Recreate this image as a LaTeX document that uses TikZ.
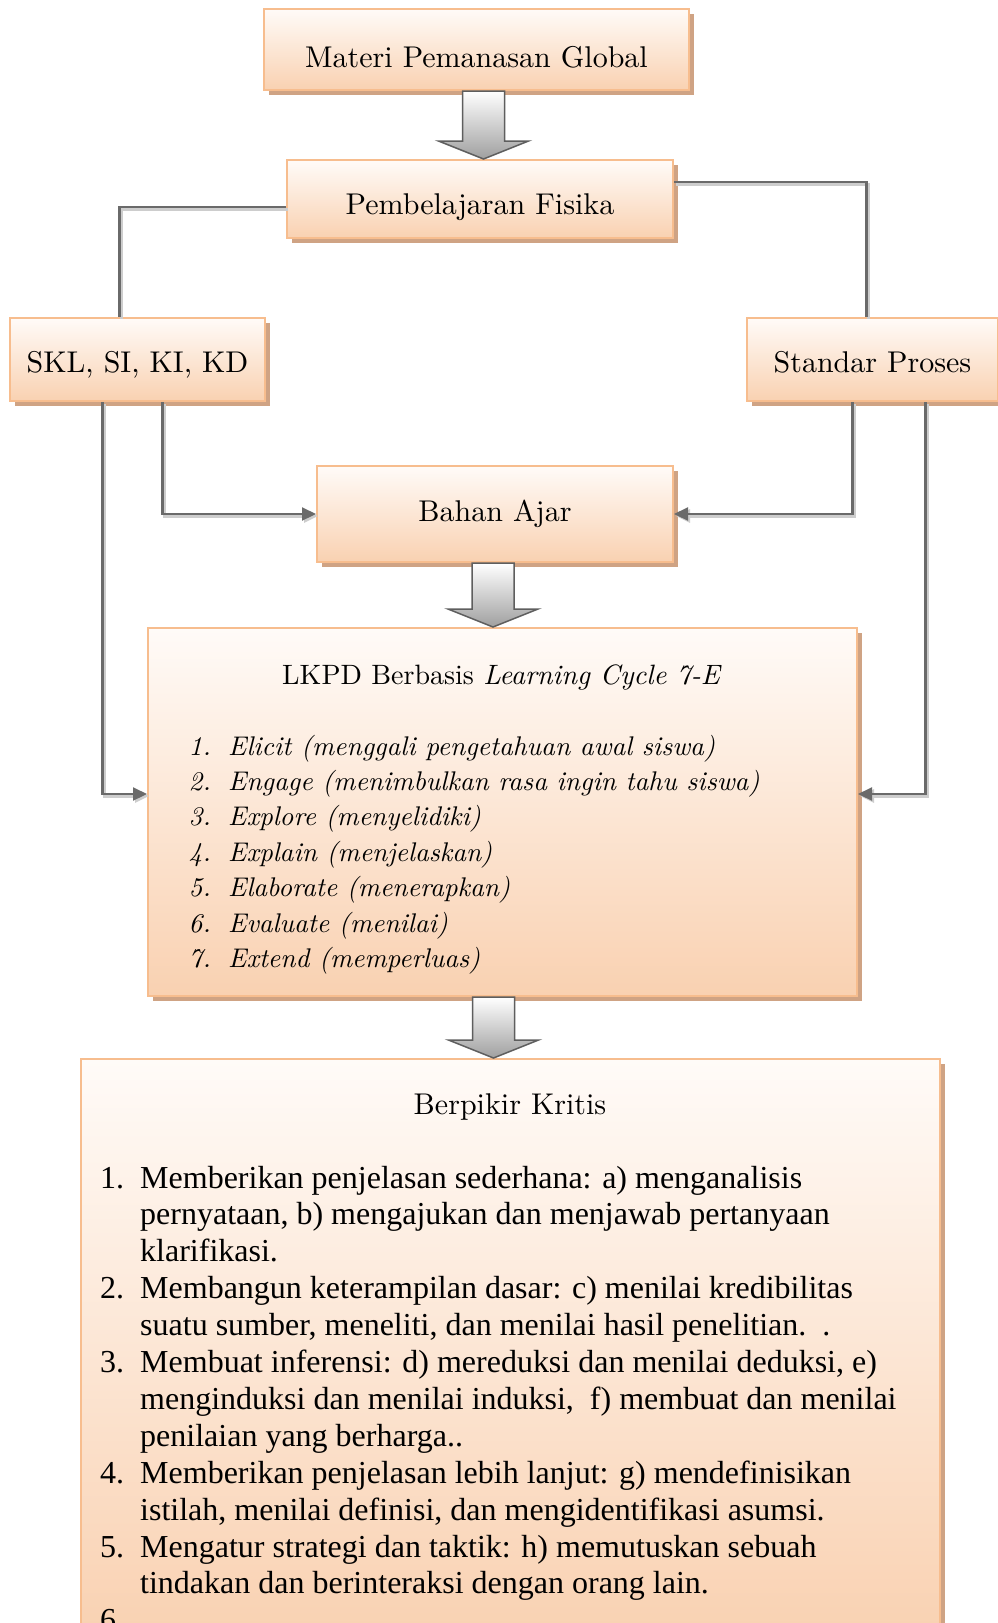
\documentclass[tikz,border=0pt]{standalone}
\usepackage{fontspec}
\newfontfamily\timesfont{Liberation Serif}
\newfontfamily\boxfont[ItalicFont=lmroman10-italic.otf]{lmroman10-regular.otf}
\usepackage{tikz}
\usetikzlibrary{positioning, calc, arrows.meta, shadows}
\definecolor{PeachTop}  {HTML}{FFFBF8}
\definecolor{Peach}     {HTML}{F9D1B1}
\definecolor{PeachEdge} {HTML}{F7BD8E}
\definecolor{ShadowTan} {HTML}{CFA384}
\definecolor{LineGry}   {HTML}{6A6A6A}
\definecolor{LineShd}   {HTML}{CDCDCD}
\definecolor{ArrGry}    {HTML}{5E5E5E}

\begin{document}
\begin{tikzpicture}[x=1pt, y=-1pt,
    box/.style={draw=PeachEdge, line width=2pt, top color=PeachTop, bottom color=Peach,
      drop shadow={shadow xshift=5pt, shadow yshift=-5pt, fill=ShadowTan, opacity=1},
      inner sep=0pt, font=\boxfont\fontsize{30}{36}\selectfont},
    link/.style={draw=LineGry, line width=2.2pt,
      preaction={draw=LineShd, line width=3pt, transform canvas={shift={(2pt,-2pt)}}}},
    conn/.style={link, -{Triangle[length=14pt, width=13pt]}},
    blockarr/.style={draw=ArrGry, line width=1.5pt, top color=white, bottom color=gray!75,
      line join=miter}]
      \useasboundingbox (0,0) rectangle (998,1623);
      \fill[white] (0,0) rectangle (998,1623);
      % ── boxes ────────────────────────────────────────────────────────────────
      \node[box, minimum width=425pt, minimum height=81pt] (mat) at (476.5,49.5)
        {\raisebox{-8pt}[\height][\depth]{Materi Pemanasan Global}};
      \node[box, minimum width=386pt, minimum height=78pt] (fis) at (480,199)
        {\raisebox{-8pt}[\height][\depth]{Pembelajaran Fisika}};
      \node[box, minimum width=255pt, minimum height=83pt] (skl) at (137.5,359.5)
        {\raisebox{-5pt}[\height][\depth]{SKL, SI, KI, KD}};
      \node[box, minimum width=251pt, minimum height=83pt] (std) at (872.5,359.5)
        {\raisebox{-3pt}[\height][\depth]{Standar Proses}};
      \node[box, minimum width=356pt, minimum height=96pt] (bah) at (495,514)
        {Bahan Ajar};
      \node[box, minimum width=709pt, minimum height=368pt] (lkpd) at (502.5,812) {};
      \node[box, minimum width=859pt, minimum height=582pt] (kri) at (510.5,1350) {};
      % ── connectors ───────────────────────────────────────────────────────────
      \draw[link] ($(fis.west)+(0,8)$) -| ($(skl.north)+(-18,0)$);
      \draw[link] ($(fis.east)+(0,-17)$) -| ($(std.north)+(-6,0)$);
      \draw[conn] ($(skl.south)+(-35,0)$) |- ($(lkpd.west)+(0,-18)$);
      \draw[conn] ($(skl.south)+(25,0)$) |- (bah.west);
      \draw[conn] ($(std.south)+(-20,0)$) |- (bah.east);
      \draw[conn] ($(std.south)+(53,0)$) |- ($(lkpd.east)+(0,-18)$);
      % ── block arrows between the stacked boxes ──────────────────────────────
      \foreach \a/\b/\dx in {mat/fis/7, bah/lkpd/-2, lkpd/kri/-9} {
        \draw[blockarr] let \p1=($(\a.south)+(\dx,0)$), \p2=(\b.north) in
          (\x1-21pt,\y1) -- (\x1+21pt,\y1) -- (\x1+21pt,\y2+18pt) -- (\x1+45pt,\y2+18pt)
          -- (\x1,\y2) -- (\x1-45pt,\y2+18pt) -- (\x1-21pt,\y2+18pt) -- cycle;
      }
      % ── LKPD list ────────────────────────────────────────────────────────────
      \node[font=\boxfont\fontsize{28}{34}\selectfont] (lk-title) at (502,677)
        {LKPD Berbasis \textit{Learning Cycle 7-E}};
      \foreach \i/\t in {1/Elicit (menggali pengetahuan awal siswa),
          2/Engage (menimbulkan rasa ingin tahu siswa), 3/Explore (menyelidiki),
          4/Explain (menjelaskan), 5/Elaborate (menerapkan), 6/Evaluate (menilai),
          7/Extend (memperluas)} {
        \node[anchor=base east, inner sep=0pt, font=\boxfont\itshape\fontsize{27}{33}\selectfont]
          (lk-n\i) at (211, {755+(\i-1)*35.4}) {\i.};
        \node[anchor=base west, inner sep=0pt, font=\boxfont\itshape\fontsize{27}{33}\selectfont]
          (lk-\i) at (228, {755+(\i-1)*35.4}) {\t};
      }
      % ── Berpikir Kritis list ─────────────────────────────────────────────────
      \node[font=\boxfont\fontsize{30}{36}\selectfont] (kr-title) at (510,1107) {Berpikir Kritis};
      \foreach \k/\num/\t in {{0/1./Memberikan penjelasan sederhana: a) menganalisis},
          {1//pernyataan, b) mengajukan dan menjawab pertanyaan},
          {2//klarifikasi.},
          {3/2./Membangun keterampilan dasar: c) menilai kredibilitas},
          {4//suatu sumber, meneliti, dan menilai hasil penelitian.\ \ .},
          {5/3./Membuat inferensi: d) mereduksi dan menilai deduksi, e)},
          {6//menginduksi dan menilai induksi,\ \ f) membuat dan menilai},
          {7//penilaian yang berharga..},
          {8/4./Memberikan penjelasan lebih lanjut: g) mendefinisikan},
          {9//istilah, menilai definisi, dan mengidentifikasi asumsi.},
          {10/5./Mengatur strategi dan taktik: h) memutuskan sebuah},
          {11//tindakan dan berinteraksi dengan orang lain.},
          {12/6./}} {
        \node[anchor=base west, inner sep=0pt, font=\timesfont\fontsize{32}{37}\selectfont]
          (kr-n\k) at (100, {1188+\k*36.9}) {\num};
        \node[anchor=base west, inner sep=0pt, font=\timesfont\fontsize{32}{37}\selectfont]
          (kr-\k) at (140, {1188+\k*36.9}) {\t};
      }
    \end{tikzpicture}
\end{document}
